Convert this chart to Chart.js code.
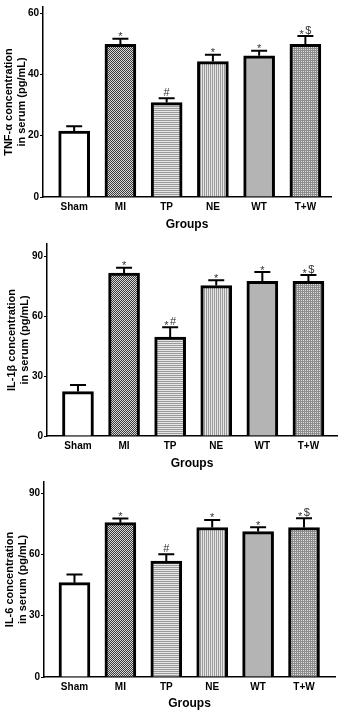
<!DOCTYPE html>
<html>
<head>
<meta charset="utf-8">
<script src="https://cdn.jsdelivr.net/npm/chart.js@4.4.1/dist/chart.umd.min.js"></script>
<style>
  body { margin: 0; background: #fff; }
  canvas { display: block; }
</style>
</head>
<body>
<canvas id="tnf" width="342" height="237"></canvas>
<canvas id="il1b" width="342" height="238"></canvas>
<canvas id="il6" width="342" height="238"></canvas>
<script>
// Gruppen und Werte (Mittelwert + SEM)
const groups = ['Sham', 'MI', 'TP', 'NE', 'WT', 'T+W'];

const tnfMean = [21.5, 49.8, 30.8, 44.2, 46.1, 49.8];
const tnfSem = [1.6, 1.8, 1.4, 2.2, 1.6, 2.7];
const tnfMarks = ['', '*', '#', '*', '*', '*$'];
const tnfTicks = [0, 20, 40, 60];

const il1bMean = [22.2, 81.5, 49.5, 75.2, 77.3, 77.3];
const il1bSem = [3.3, 2.6, 4.9, 2.7, 4.7, 3.2];
const il1bMarks = ['', '*', '*#', '*', '*', '*$'];
const il1bTicks = [0, 30, 60, 90];

const il6Mean = [46.2, 75.6, 56.8, 73.2, 71.2, 73.2];
const il6Sem = [4.0, 2.0, 3.3, 3.7, 2.1, 4.5];
const il6Marks = ['', '*', '#', '*', '*', '*$'];
const il6Ticks = [0, 30, 60, 90];

const FONT = 'Liberation Sans, Arial, sans-serif';

function makePattern(w, h, dark, light, isDark) {
  const c = document.createElement('canvas');
  c.width = w; c.height = h;
  const g = c.getContext('2d');
  for (let y = 0; y < h; y++) {
    for (let x = 0; x < w; x++) {
      g.fillStyle = isDark(x, y) ? dark : light;
      g.fillRect(x, y, 1, 1);
    }
  }
  return g.createPattern(c, 'repeat');
}

const fills = [
  '#ffffff',
  makePattern(2, 2, '#3a3a3a', '#d8d8d8', (x, y) => (x + y) % 2 === 0),
  makePattern(1, 2, '#9a9a9a', '#e6e6e6', (x, y) => y === 0),
  makePattern(2, 1, '#9a9a9a', '#e6e6e6', (x, y) => x === 0),
  '#b4b4b4',
  makePattern(2, 2, '#8c8c8c', '#e0e0e0', (x, y) => x === 0 || y === 0)
];

// Fehlerbalken und Signifikanz-Zeichen
const errorBars = {
  id: 'errorBars',
  afterDatasetsDraw(chart, args, opts) {
    const ctx = chart.ctx;
    const yScale = chart.scales.y;
    const meta = chart.getDatasetMeta(0);
    ctx.save();
    meta.data.forEach((bar, i) => {
      const x = bar.x;
      const yBar = yScale.getPixelForValue(opts.mean[i]);
      const yTop = yScale.getPixelForValue(opts.mean[i] + opts.sem[i]);
      ctx.strokeStyle = '#000';
      ctx.lineWidth = 2;
      ctx.beginPath();
      ctx.moveTo(x, yBar);
      ctx.lineTo(x, yTop);
      ctx.moveTo(x - 8, yTop);
      ctx.lineTo(x + 8, yTop);
      ctx.stroke();

      const mark = opts.marks[i];
      if (!mark) return;
      ctx.font = '11px ' + FONT;
      ctx.fillStyle = '#333';
      ctx.textBaseline = 'alphabetic';
      ctx.textAlign = 'left';
      const gap = 1.5;
      const chars = mark.split('');
      const widths = chars.map(ch => ctx.measureText(ch).width);
      const total = widths.reduce((a, b) => a + b, 0) + gap * (chars.length - 1);
      let cx = x - total / 2;
      chars.forEach((ch, k) => {
        const dy = ch === '*' ? 3.5 : 0;
        ctx.fillText(ch, cx, yTop - 2 + dy);
        cx += widths[k] + gap;
      });
    });
    ctx.restore();
  }
};

function drawPanel(id, mean, sem, marks, yTicks, yTitle, geo) {
  const ctx = document.getElementById(id).getContext('2d');
  new Chart(ctx, {
    type: 'bar',
    data: {
      datasets: [{
        data: mean.map((v, i) => ({ x: i, y: v })),
        backgroundColor: fills,
        borderColor: '#000',
        borderWidth: 3,
        borderSkipped: 'start',
        barThickness: 31
      }]
    },
    options: {
      responsive: false,
      animation: false,
      devicePixelRatio: 1,
      layout: { padding: { top: geo.top, right: geo.right, left: 0, bottom: 0 } },
      plugins: {
        legend: { display: false },
        tooltip: { enabled: false },
        errorBars: { mean: mean, sem: sem, marks: marks }
      },
      scales: {
        x: {
          type: 'linear',
          offset: false,
          min: geo.xMin,
          max: geo.xMax,
          afterBuildTicks: scale => { scale.ticks = groups.map((g, i) => ({ value: i })); },
          afterFit: scale => { scale.height = geo.xHeight; },
          ticks: {
            callback: v => groups[v],
            color: '#000',
            padding: 4,
            font: { family: FONT, size: 10, weight: 'bold' },
            maxRotation: 0,
            autoSkip: false
          },
          grid: { display: true, offset: false, drawOnChartArea: false, drawTicks: false },
          border: { color: '#000', width: 1.5 },
          title: {
            display: true,
            text: 'Groups',
            color: '#000',
            font: { family: FONT, size: 12, weight: 'bold' },
            padding: { top: 0, bottom: geo.xTitlePad }
          }
        },
        y: {
          min: 0,
          max: geo.yMax,
          afterBuildTicks: scale => { scale.ticks = yTicks.map(v => ({ value: v })); },
          afterFit: scale => { scale.width = geo.yWidth; },
          ticks: {
            color: '#000',
            padding: 1,
            font: { family: FONT, size: 10, weight: 'bold' }
          },
          grid: { display: true, drawOnChartArea: false, drawTicks: true, tickLength: 3, color: '#000', lineWidth: 1 },
          border: { color: '#000', width: 1.5 },
          title: {
            display: true,
            text: yTitle,
            color: '#000',
            font: { family: FONT, size: 11, weight: 'bold' },
            padding: { top: geo.yTitlePad, bottom: 0 }
          }
        }
      }
    },
    plugins: [errorBars]
  });
}

drawPanel('tnf', tnfMean, tnfSem, tnfMarks, tnfTicks,
  ['TNF-α concentration', 'in serum (pg/mL)'],
  { top: 3, right: 11, yMax: 62, yWidth: 43, xHeight: 40, xMin: -0.674, xMax: 5.554, xTitlePad: 5, yTitlePad: 2 });

drawPanel('il1b', il1bMean, il1bSem, il1bMarks, il1bTicks,
  ['IL-1β concentration', 'in serum (pg/mL)'],
  { top: 3, right: 5, yMax: 96, yWidth: 47, xHeight: 39, xMin: -0.672, xMax: 5.62, xTitlePad: 4, yTitlePad: 5 });

drawPanel('il6', il6Mean, il6Sem, il6Marks, il6Ticks,
  ['IL-6 concentration', 'in serum (pg/mL)'],
  { top: 7, right: 7, yMax: 95.5, yWidth: 44, xHeight: 36, xMin: -0.664, xMax: 5.675, xTitlePad: 2, yTitlePad: 3 });
</script>
</body>
</html>
